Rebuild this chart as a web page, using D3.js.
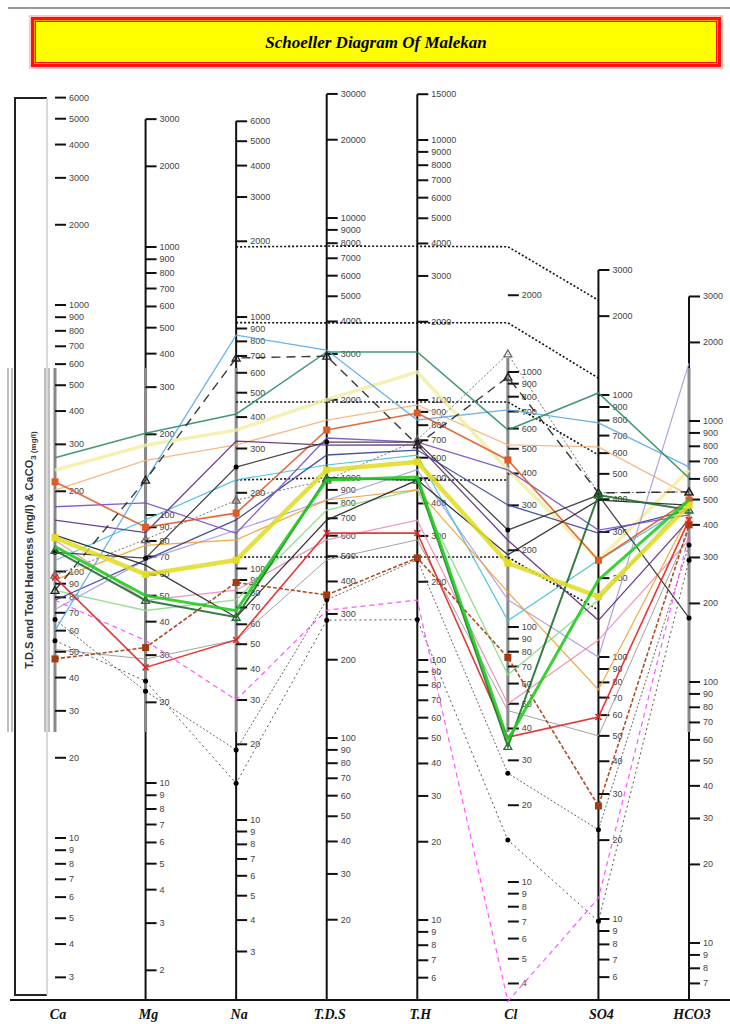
<!DOCTYPE html>
<html><head><meta charset="utf-8">
<script src="https://cdn.jsdelivr.net/npm/d3@7"></script>
<style>body{margin:0;background:#fff} svg{display:block}</style>
</head><body><svg id="c" width="730" height="1024"></svg>
<script>
// ---------- DATA ----------
const title = "Schoeller Diagram Of Malekan";
const axes = ["Ca","Mg","Na","T.D.S","T.H","Cl","SO4","HCO3"];

const ticksCa   = [6000,5000,4000,3000,2000,1000,900,800,700,600,500,400,300,200,100,90,80,70,60,50,40,30,20,10,9,8,7,6,5,4,3];
const ticksMg   = [3000,2000,1000,900,800,700,600,500,400,300,200,100,90,80,70,60,50,40,30,20,10,9,8,7,6,5,4,3,2];
const ticksNa   = [6000,5000,4000,3000,2000,1000,900,800,700,600,500,400,300,200,100,90,80,70,60,50,40,30,20,10,9,8,7,6,5,4,3];
const ticksTDS  = [30000,20000,10000,9000,8000,7000,6000,5000,4000,3000,2000,1000,900,800,700,600,500,400,300,200,100,90,80,70,60,50,40,30,20];
const ticksTH   = [15000,10000,9000,8000,7000,6000,5000,4000,3000,2000,1000,900,800,700,600,500,400,300,200,100,90,80,70,60,50,40,30,20,10,9,8,7,6];
const ticksCl   = [2000,1000,900,800,700,600,500,400,300,200,100,90,80,70,60,50,40,30,20,10,9,8,7,6,5,4];
const ticksSO4  = [3000,2000,1000,900,800,700,600,500,400,300,200,100,90,80,70,60,50,40,30,20,10,9,8,7,6];
const ticksHCO3 = [3000,2000,1000,900,800,700,600,500,400,300,200,100,90,80,70,60,50,40,30,20,10,9,8,7];

// samples: Ca, Mg, Na, T.D.S, T.H, Cl, SO4, HCO3  (mg/l)
const s01 = [267, 202, 411, 3054, 1530, 593, 1018, 605];
const s02 = [60, 135, 847, 3104, 838, 710, 782, 667];
const s03 = [85, 135, 687, 2943, 672, 955, 423, 535];
const s04 = [217, 90, 166, 1530, 891, 452, 234, 498];
const s05 = [175, 111, 138, 1425, 689, 413, 305, 437];
const s06 = [134, 60, 108, 1073, 578, 178, 170, 476];
const s07 = [124, 50, 68, 982, 506, 36, 197, 498];
const s08 = [120, 48, 64, 1000, 492, 34, 415, 456];
const s09 = [95, 27, 52, 614, 308, 37, 59, 418];
const s10 = [47, 32, 88, 355, 247, 76, 27, 400];
const s11 = [118, 69, 253, 1375, 689, 240, 415, 176];
const s12 = [240, 182, 355, 2000, 1282, 413, 234, 649];
const s13 = [202, 160, 310, 1671, 957, 518, 634, 520];
const s14 = [78, 68, 156, 1226, 642, 301, 297, 456];
const s15 = [72, 68, 142, 823, 539, 128, 100, 1667];
const s16 = [131, 48, 82, 578, 345, 50, 116, 350];
const s17 = [78, 34, 30, 310, 170, 3.4, 12, 366];
const s18 = [55, 24, 14, 284, 143, 14.6, 9.8, 293];
const s19 = [66, 22, 19, 340, 243, 26.7, 21.9, 335];
const s20 = [97, 81, 187, 982, 702, 1177, 423, 535];
const s21 = [110, 96, 225, 1122, 614, 106, 234, 476];
const s22 = [93, 77, 130, 823, 451, 137, 75, 437];
const s23 = [156, 86, 321, 1339, 672, 219, 138, 418];
const s24 = [85, 44, 75, 753, 451, 65, 165, 498];
const s25 = [51, 29, 52, 484, 290, 47, 50, 382];
const s26 = [137, 65, 64, 689, 492, 192, 397, 476];
const samples = [s13,s12,s15,s16,s21,s24,s25,s22,s14,s23,s05,s02,s01,s04,s11,s26,s20,s03,s18,s19,s17,s10,s09,s08,s06,s07];

// reference (classification) lines, mg/l, null = not drawn on that axis
const ref1 = [null, null, 1900, 7800, 3900, 3100, 2300, null];
const ref2 = [null, null, 950, 3950, 1980, 1560, 1160, null];
const ref3 = [null, null, 459, 1960, 982, 763, 590, null];
const ref4 = [null, null, 225, 1000, 492, 377, null, null];
const ref5 = [null, null, 111, 497, 249, 188, 151, null];
const refs = [ref1, ref2, ref3, ref4, ref5];

// ---------- STYLES ----------
const styleOf = new Map([
 [s01,{c:"#2f8f5f",w:1.6}], [s02,{c:"#5aaae8",w:1.3}], [s03,{c:"#222",w:1.4,d:"9,6",m:"tri"}],
 [s04,{c:"#e05a28",w:1.6,m:"sq"}], [s05,{c:"#7a4cc8",w:1.3}], [s06,{c:"#e2dc22",w:4.5,o:0.85,m:"sq"}],
 [s07,{c:"#22cc22",w:3}], [s08,{c:"#1e6e2e",w:2,m:"tri"}], [s09,{c:"#e82020",w:1.6,m:"x"}],
 [s10,{c:"#a03c10",w:1.6,d:"4,2",m:"sq"}], [s11,{c:"#333",w:1.3,m:"dot"}], [s12,{c:"#f3eca0",w:3.5,o:0.8}],
 [s13,{c:"#f5b27a",w:1.3}], [s14,{c:"#34409a",w:1.3}], [s15,{c:"#a898e0",w:1.2}],
 [s16,{c:"#f08cb0",w:1.2}], [s17,{c:"#ff44ff",w:1.2,d:"5,4"}], [s18,{c:"#444",w:1,d:"2,3",m:"dot"}],
 [s19,{c:"#555",w:1,d:"2,2",m:"dot"}], [s20,{c:"#666",w:1,d:"2,2",m:"tri"}], [s21,{c:"#3cc0d8",w:1.2}],
 [s22,{c:"#f0a030",w:1.2}], [s23,{c:"#5c2a7c",w:1.3}], [s24,{c:"#88dd88",w:1.4}],
 [s25,{c:"#999",w:1}], [s26,{c:"#222",w:1.3}]
]);

// ---------- LAYOUT ----------
const svg = d3.select("#c");
const x = d3.scalePoint().domain(axes).range([55, 689]);
const yScales = {
  "Ca":   d3.scaleLog().domain([10,1000]).range([838,305]),
  "Mg":   d3.scaleLog().domain([10,1000]).range([783,247]),
  "Na":   d3.scaleLog().domain([10,1000]).range([820,317]),
  "T.D.S":d3.scaleLog().domain([100,1000]).range([738,478]),
  "T.H":  d3.scaleLog().domain([10,1000]).range([920,400]),
  "Cl":   d3.scaleLog().domain([10,1000]).range([882,372]),
  "SO4":  d3.scaleLog().domain([10,1000]).range([919,395]),
  "HCO3": d3.scaleLog().domain([10,1000]).range([943,421])
};
const tickSets = {"Ca":ticksCa,"Mg":ticksMg,"Na":ticksNa,"T.D.S":ticksTDS,"T.H":ticksTH,"Cl":ticksCl,"SO4":ticksSO4,"HCO3":ticksHCO3};
const bandTop = 368, bandBot = 732, baseY = 1000;

// top rule
svg.append("line").attr("x1",8).attr("x2",730).attr("y1",8).attr("y2",8).attr("stroke","#999").attr("stroke-width",2);

// title box
svg.append("rect").attr("x",29).attr("y",15).attr("width",694).attr("height",54).attr("fill","#ffc4c4");
svg.append("rect").attr("x",31).attr("y",17).attr("width",690).attr("height",50).attr("fill","#ff1010");
svg.append("rect").attr("x",34.5).attr("y",20.5).attr("width",683).attr("height",43).attr("fill","none").attr("stroke","#ff9a00").attr("stroke-width",1);
svg.append("rect").attr("x",36).attr("y",22).attr("width",680).attr("height",40).attr("fill","#ffff00");
svg.append("text").attr("x",376).attr("y",48).attr("text-anchor","middle")
  .attr("font-family","Liberation Serif, serif").attr("font-weight","bold").attr("font-style","italic")
  .attr("font-size",17).attr("fill","#000").text(title);

// left bracket box
svg.append("path").attr("d","M47,98 H15 V995 H47").attr("fill","none").attr("stroke","#222").attr("stroke-width",2);
svg.append("line").attr("x1",47).attr("x2",47).attr("y1",98).attr("y2",995).attr("stroke","#ccc").attr("stroke-width",1.5);
// band artifacts
[8,12,45,49].forEach(xx=>svg.append("line").attr("x1",xx).attr("x2",xx).attr("y1",bandTop).attr("y2",bandBot).attr("stroke","#aaa").attr("stroke-width",1.5));

// y label
const yl = svg.append("text").attr("transform","translate(33,550) rotate(-90)").attr("text-anchor","middle")
  .attr("font-family","Liberation Sans, Arial, sans-serif").attr("font-weight","bold").attr("font-size",11).attr("fill","#333");
yl.append("tspan").text("T.D.S and Total Hardness (mg/l) & CaCO");
yl.append("tspan").attr("font-size",8).attr("dy",3).text("3");
yl.append("tspan").attr("font-size",8).attr("dy",0).text(" (mg/l)");

// axis lines
const axisExt = {"Ca":null,"Mg":[3000],"Na":[6000],"T.D.S":[30000],"T.H":[15000],"Cl":null,"SO4":[3000],"HCO3":[3000]};
const bandGray = new Set(["Ca","Mg","Na","Cl","HCO3"]);
axes.forEach(a=>{
  const xx = x(a);
  if (axisExt[a]) {
    svg.append("line").attr("x1",xx).attr("x2",xx).attr("y1",yScales[a](axisExt[a][0])).attr("y2",baseY)
      .attr("stroke","#111").attr("stroke-width",2);
  }
  if (bandGray.has(a)) {
    svg.append("line").attr("x1",xx).attr("x2",xx).attr("y1",a==="Cl"?358:bandTop).attr("y2",bandBot)
      .attr("stroke","#888").attr("stroke-width",3);
  }
});

// ticks + labels
axes.forEach(a=>{
  const xx = x(a), ys = yScales[a];
  const g = svg.append("g");
  tickSets[a].forEach(v=>{
    const yy = ys(v);
    g.append("line").attr("x1",xx).attr("x2",xx+11).attr("y1",yy).attr("y2",yy).attr("stroke","#111").attr("stroke-width",2);
    g.append("text").attr("x",xx+14).attr("y",yy+3).attr("font-family","Liberation Sans, Arial, sans-serif")
      .attr("font-size",9).attr("fill","#444").text(v);
  });
});

// bottom base line + axis names
svg.append("line").attr("x1",10).attr("x2",730).attr("y1",baseY).attr("y2",baseY).attr("stroke","#111").attr("stroke-width",2);
axes.forEach(a=>{
  svg.append("text").attr("x",x(a)+3).attr("y",1019).attr("text-anchor","middle")
    .attr("font-family","Liberation Serif, serif").attr("font-weight","bold").attr("font-style","italic")
    .attr("font-size",14).attr("fill","#111").text(a);
});

// reference dotted lines
const lineGen = d3.line().defined(d=>d.v!=null).x(d=>x(d.a)).y(d=>yScales[d.a](d.v));
refs.forEach(r=>{
  svg.append("path").attr("d",lineGen(axes.map((a,i)=>({a,v:r[i]})))).attr("fill","none")
    .attr("stroke","#111").attr("stroke-width",1.6).attr("stroke-dasharray","2,2");
});

// sample lines
samples.forEach(s=>{
  const st = styleOf.get(s);
  const pts = axes.map((a,i)=>({a,v:s[i]}));
  svg.append("path").attr("d",lineGen(pts)).attr("fill","none").attr("stroke",st.c)
    .attr("stroke-width",st.w).attr("stroke-opacity",st.o||0.9).attr("stroke-dasharray",st.d||null);
  if (st.m) {
    pts.forEach(p=>{
      const px = x(p.a), py = yScales[p.a](p.v);
      if (st.m==="sq") svg.append("rect").attr("x",px-3.5).attr("y",py-3.5).attr("width",7).attr("height",7).attr("fill",st.c);
      else if (st.m==="dot") svg.append("circle").attr("cx",px).attr("cy",py).attr("r",2.5).attr("fill","#000");
      else if (st.m==="tri") svg.append("path").attr("d",`M${px},${py-4}L${px+4},${py+3}L${px-4},${py+3}Z`).attr("fill","none").attr("stroke",st.c).attr("stroke-width",1.3);
      else if (st.m==="x") svg.append("path").attr("d",`M${px-3},${py-3}L${px+3},${py+3}M${px-3},${py+3}L${px+3},${py-3}`).attr("stroke",st.c).attr("stroke-width",1.5);
    });
  }
});
</script></body></html>
